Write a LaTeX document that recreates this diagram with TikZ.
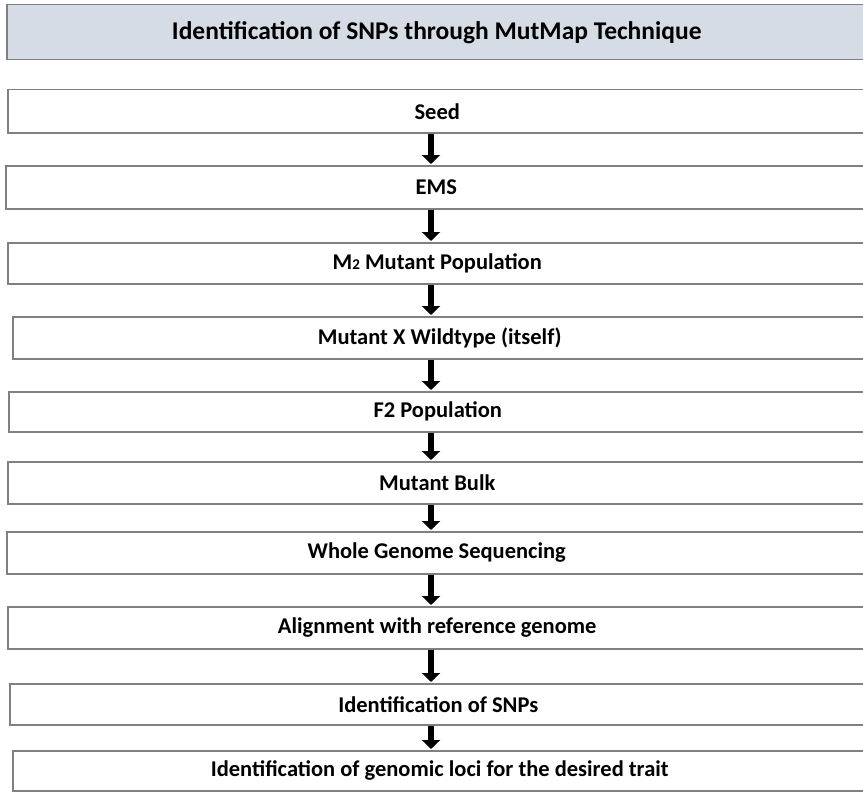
\documentclass[tikz,border=0pt]{standalone}
\usepackage{fontspec}
\setmainfont{Carlito}
\usetikzlibrary{arrows.meta,calc}
\definecolor{boxline}{HTML}{808080}
\definecolor{headfill}{HTML}{D6DCE5}
\tikzset{
  stepbox/.style={draw=boxline, line width=1.5pt, fill=white, rectangle, inner sep=0pt,
    anchor=north west, font=\fontsize{22.5}{26}\selectfont\bfseries},
  headbox/.style={stepbox, fill=headfill, font=\fontsize{25.5}{30}\selectfont\bfseries},
  flowarrow/.style={draw=black, line width=6.5pt, -{Triangle[width=18pt,length=9pt]}, shorten >=1pt}
}
\newcommand{\mybox}[6]{% name, style, left, top, bottom, text
  \node[#2, minimum width={(866-#3)*1pt}, minimum height={(#5-#4)*1pt}] (#1) at (#3,#4) {#6};}
\begin{document}
\begin{tikzpicture}[x=1pt,y=-1pt]
\useasboundingbox (0,0) rectangle (863,792);
\fill[white] (0,0) rectangle (863,792);
\mybox{head}{headbox}{6}{4}{59}{Identification of SNPs through MutMap Technique}
\mybox{seed}{stepbox}{7}{89}{132}{Seed}
\mybox{ems}{stepbox}{5}{165}{208}{EMS}
\mybox{mtwo}{stepbox}{7}{242}{283}{M{\fontsize{15}{15}\selectfont 2} Mutant Population}
\mybox{mxw}{stepbox}{12}{316}{358}{Mutant X Wildtype (itself)}
\mybox{ftwo}{stepbox}{8}{391}{431}{F2 Population}
\mybox{bulk}{stepbox}{7}{461}{503}{Mutant Bulk}
\mybox{wgs}{stepbox}{6}{531}{573}{Whole Genome Sequencing}
\mybox{aln}{stepbox}{7}{606}{648}{Alignment with reference genome}
\mybox{snp}{stepbox}{9}{683}{724}{Identification of SNPs}
\mybox{loci}{stepbox}{12}{750}{790}{Identification of genomic loci for the desired trait}
\coordinate (ax) at (431,0);
\foreach \a/\b in {seed/ems, ems/mtwo, mtwo/mxw, mxw/ftwo, ftwo/bulk, bulk/wgs, wgs/aln, aln/snp, snp/loci}{
  \draw[flowarrow] (\a.south -| ax) -- (\b.north -| ax);
}
\end{tikzpicture}
\end{document}
